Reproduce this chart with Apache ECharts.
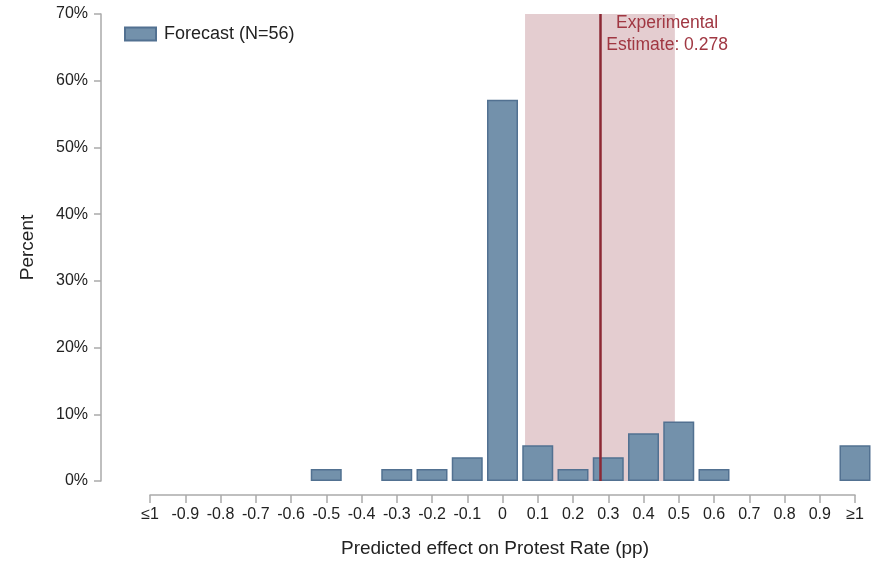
<!DOCTYPE html>
<html><head><meta charset="utf-8">
<script src="https://cdn.jsdelivr.net/npm/echarts@6/dist/echarts.min.js"></script>
<style>html,body{margin:0;padding:0;background:#fff}#c{width:886px;height:561px}</style>
</head><body><div id="c"></div>
<script>
const binCenters = [-0.5, -0.3, -0.2, -0.1, 0, 0.1, 0.2, 0.3, 0.4, 0.5, 0.6, 1.0];
const percents = [1.79, 1.79, 1.79, 3.57, 57.14, 5.36, 1.79, 3.57, 7.14, 8.93, 1.79, 5.36];
const estimate = 0.278;
const ciLow = 0.064, ciHigh = 0.489;
const seriesName = 'Forecast (N=56)';
const annotation = 'Experimental\nEstimate: 0.278';

const FONT = '"Liberation Sans",Arial,sans-serif';
const chart = echarts.init(document.getElementById('c'));
chart.setOption({
  animation: false,
  textStyle: {fontFamily: FONT},
  grid: {left: 150, right: 31, top: 14, bottom: 80, containLabel: false, outerBoundsMode: 'none'},
  legend: {
    left: 119, top: 20, itemWidth: 31, itemHeight: 13, itemGap: 10, icon: 'rect',
    data: [seriesName],
    textStyle: {fontFamily: FONT, fontSize: 18, color: '#222', padding: [0, 0, 0, 3]}
  },
  xAxis: {
    type: 'value', min: -1, max: 1, interval: 0.1, offset: 14,
    name: 'Predicted effect on Protest Rate (pp)', nameLocation: 'middle', nameGap: 44,
    nameTextStyle: {fontFamily: FONT, fontSize: 19, color: '#222', padding: [0, 15, 0, 0]},
    axisLine: {onZero: false, lineStyle: {color: '#aaa', width: 1.5}},
    axisTick: {length: 8, lineStyle: {color: '#aaa', width: 1.5}},
    splitLine: {show: false},
    axisLabel: {
      fontFamily: FONT, fontSize: 16, color: '#222', margin: 12,
      formatter: v => v <= -0.999 ? '\u22641' : (v >= 0.999 ? '\u22651' : (Math.abs(v) < 1e-9 ? '0' : v.toFixed(1)))
    }
  },
  yAxis: {
    type: 'value', min: 0, max: 70, interval: 10, offset: 49,
    name: 'Percent', nameLocation: 'middle', nameGap: 64, nameRotate: 90,
    nameTextStyle: {fontFamily: FONT, fontSize: 19, color: '#222'},
    axisLine: {show: true, onZero: false, lineStyle: {color: '#aaa', width: 1.5}},
    axisTick: {show: true, length: 7, lineStyle: {color: '#aaa', width: 1.5}},
    splitLine: {show: false},
    axisLabel: {fontFamily: FONT, fontSize: 16, color: '#222', margin: 13, formatter: v => v + '%'}
  },
  series: [
    {
      type: 'line', data: [], z: 1, silent: true,
      markArea: {
        silent: true,
        itemStyle: {color: 'rgb(228,205,208)'},
        data: [[{xAxis: ciLow, yAxis: 0}, {xAxis: ciHigh, yAxis: 70}]]
      }
    },
    {
      name: seriesName, type: 'bar', z: 2, barWidth: 31,
      data: binCenters.map((x, i) => [x, percents[i]]),
      itemStyle: {color: 'rgb(115,145,171)', borderColor: 'rgb(82,113,145)', borderWidth: 1.5}
    },
    {
      type: 'line', data: [], z: 3, silent: true,
      markLine: {
        silent: true, symbol: 'none', label: {show: false},
        lineStyle: {color: 'rgb(140,40,52)', width: 2.5, type: 'solid'},
        data: [[{coord: [estimate, 0]}, {coord: [estimate, 70]}]]
      },
      markPoint: {
        silent: true, symbol: 'circle', symbolSize: 0,
        label: {show: true, position: 'inside', formatter: annotation, fontFamily: FONT, fontSize: 17.5,
          lineHeight: 22, color: 'rgb(160,55,66)', align: 'center'},
        data: [{coord: [0.467, 67.0]}]
      }
    }
  ]
});
</script></body></html>
